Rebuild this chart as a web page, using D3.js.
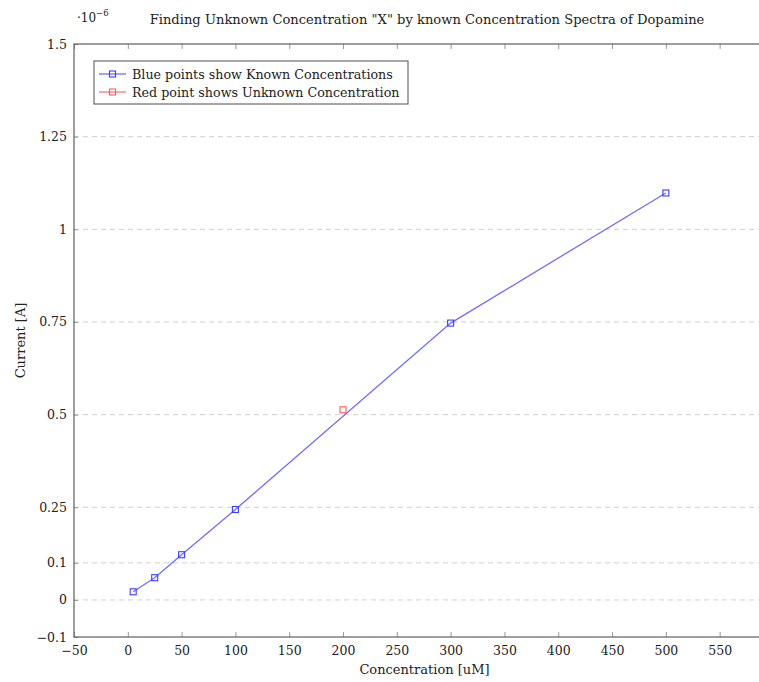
<!DOCTYPE html>
<html>
<head>
<meta charset="utf-8">
<script src="https://cdn.jsdelivr.net/npm/d3@7"></script>
<style>
  html, body { margin: 0; padding: 0; background: #fff; }
  svg { display: block; }
  text { font-family: "DejaVu Serif", "Liberation Serif", serif; fill: #222; }
</style>
</head>
<body>
<svg id="chart" width="759" height="682"></svg>
<script>
// Known concentrations (uM) and measured peak current (x 1e-6 A)
const knownConc = [5, 25, 50, 100, 300, 500];
const knownCurrent = [0.022, 0.06, 0.122, 0.244, 0.747, 1.098];

// Unknown sample "X"
const unknownConc = [200];
const unknownCurrent = [0.513];

const xTicks = [-50, 0, 50, 100, 150, 200, 250, 300, 350, 400, 450, 500, 550];
const yTicks = [-0.1, 0, 0.1, 0.25, 0.5, 0.75, 1, 1.25, 1.5];

const titleText = 'Finding Unknown Concentration "X" by known Concentration Spectra of Dopamine';
const xLabel = "Concentration [uM]";
const yLabel = "Current [A]";
const legendLabels = ["Blue points show Known Concentrations", "Red point shows Unknown Concentration"];

const svg = d3.select("#chart");
const plotL = 74, plotR = 781, plotT = 44, plotB = 637;

const x = d3.scaleLinear().domain([-50, 607]).range([plotL, plotR]);
const y = d3.scaleLinear().domain([-0.1, 1.5]).range([plotB, plotT]);

const blue = "#6e6eff", blueMark = "#3c3cff";
const red = "#ff7878", redMark = "#ff5a5a";
const axisColor = "#5e5e5e";
const fontStack = '"DejaVu Serif", "Liberation Serif", serif';

const fmt = v => (v < 0 ? "\u2212" : "") + String(Math.abs(v));

// horizontal dashed grid
svg.append("g").selectAll("line")
  .data(yTicks.filter(v => v > -0.1 && v < 1.5))
  .join("line")
  .attr("x1", plotL).attr("x2", plotR)
  .attr("y1", d => y(d)).attr("y2", d => y(d))
  .attr("stroke", "#cfcfcf").attr("stroke-width", 1)
  .attr("stroke-dasharray", "5,4");

// bottom axis: labels plus inward ticks
const xAxis = d3.axisBottom(x).tickValues(xTicks).tickSize(-5).tickPadding(9).tickFormat(fmt);
const gx = svg.append("g").attr("transform", `translate(0,${plotB})`).call(xAxis);
gx.select(".domain").remove();
gx.selectAll(".tick line").attr("stroke", "#999").attr("stroke-width", 1);
gx.selectAll(".tick text").attr("font-size", 12.5).attr("fill", "#222")
  .style("font-family", fontStack);

// top axis: inward ticks only
const gxt = svg.append("g").attr("transform", `translate(0,${plotT})`)
  .call(d3.axisTop(x).tickValues(xTicks).tickSize(-5).tickFormat(""));
gxt.select(".domain").remove();
gxt.selectAll(".tick line").attr("stroke", "#999").attr("stroke-width", 1);

// left axis
const yAxis = d3.axisLeft(y).tickValues(yTicks).tickSize(-4).tickPadding(7).tickFormat(fmt);
const gy = svg.append("g").attr("transform", `translate(${plotL},0)`).call(yAxis);
gy.select(".domain").remove();
gy.selectAll(".tick line").attr("stroke", "#999").attr("stroke-width", 1);
gy.selectAll(".tick text").attr("font-size", 12.5).attr("fill", "#222")
  .style("font-family", fontStack);

// axis frame
svg.append("rect")
  .attr("x", plotL).attr("y", plotT)
  .attr("width", plotR - plotL).attr("height", plotB - plotT)
  .attr("fill", "none").attr("stroke", axisColor).attr("stroke-width", 1.2);

// known-concentration series
const knownData = knownConc.map((c, i) => [c, knownCurrent[i]]);
const line = d3.line().x(d => x(d[0])).y(d => y(d[1]));
svg.append("path").datum(knownData)
  .attr("d", line).attr("fill", "none")
  .attr("stroke", blue).attr("stroke-width", 1.3);

const ms = 6;
svg.append("g").selectAll("rect")
  .data(knownData).join("rect")
  .attr("x", d => x(d[0]) - ms / 2).attr("y", d => y(d[1]) - ms / 2)
  .attr("width", ms).attr("height", ms)
  .attr("fill", "none").attr("stroke", blueMark).attr("stroke-width", 1.1);

// unknown sample
const unknownData = unknownConc.map((c, i) => [c, unknownCurrent[i]]);
svg.append("g").selectAll("rect")
  .data(unknownData).join("rect")
  .attr("x", d => x(d[0]) - ms / 2).attr("y", d => y(d[1]) - ms / 2)
  .attr("width", ms).attr("height", ms)
  .attr("fill", "none").attr("stroke", redMark).attr("stroke-width", 1.1);

// legend
const lg = svg.append("g");
lg.append("rect").attr("x", 94).attr("y", 61).attr("width", 314).attr("height", 43)
  .attr("fill", "#fff").attr("stroke", axisColor).attr("stroke-width", 1.1);
[[blue, blueMark], [red, redMark]].forEach((c, i) => {
  const yy = 74 + i * 18;
  lg.append("line").attr("x1", 99).attr("x2", 126).attr("y1", yy).attr("y2", yy)
    .attr("stroke", c[0]).attr("stroke-width", 1.3);
  lg.append("rect").attr("x", 112.5 - ms / 2).attr("y", yy - ms / 2)
    .attr("width", ms).attr("height", ms)
    .attr("fill", "none").attr("stroke", c[1]).attr("stroke-width", 1.1);
  lg.append("text").attr("x", 132).attr("y", yy + 4.5)
    .attr("font-size", 12.7).text(legendLabels[i]);
});

// title and exponent marker
svg.append("text").attr("x", 427).attr("y", 24).attr("text-anchor", "middle")
  .attr("font-size", 13.1).text(titleText);
const ex = svg.append("text").attr("x", 77).attr("y", 22).attr("font-size", 12);
ex.append("tspan").text("\u00B710");
ex.append("tspan").attr("dy", -6).attr("font-size", 8.5).text("\u22126");

// axis labels
svg.append("text").attr("x", (plotL + plotR) / 2 - 3).attr("y", 674)
  .attr("text-anchor", "middle").attr("font-size", 13).text(xLabel);
svg.append("text")
  .attr("transform", `translate(25,${(plotT + plotB) / 2}) rotate(-90)`)
  .attr("text-anchor", "middle").attr("font-size", 13).text(yLabel);
</script>
</body>
</html>
